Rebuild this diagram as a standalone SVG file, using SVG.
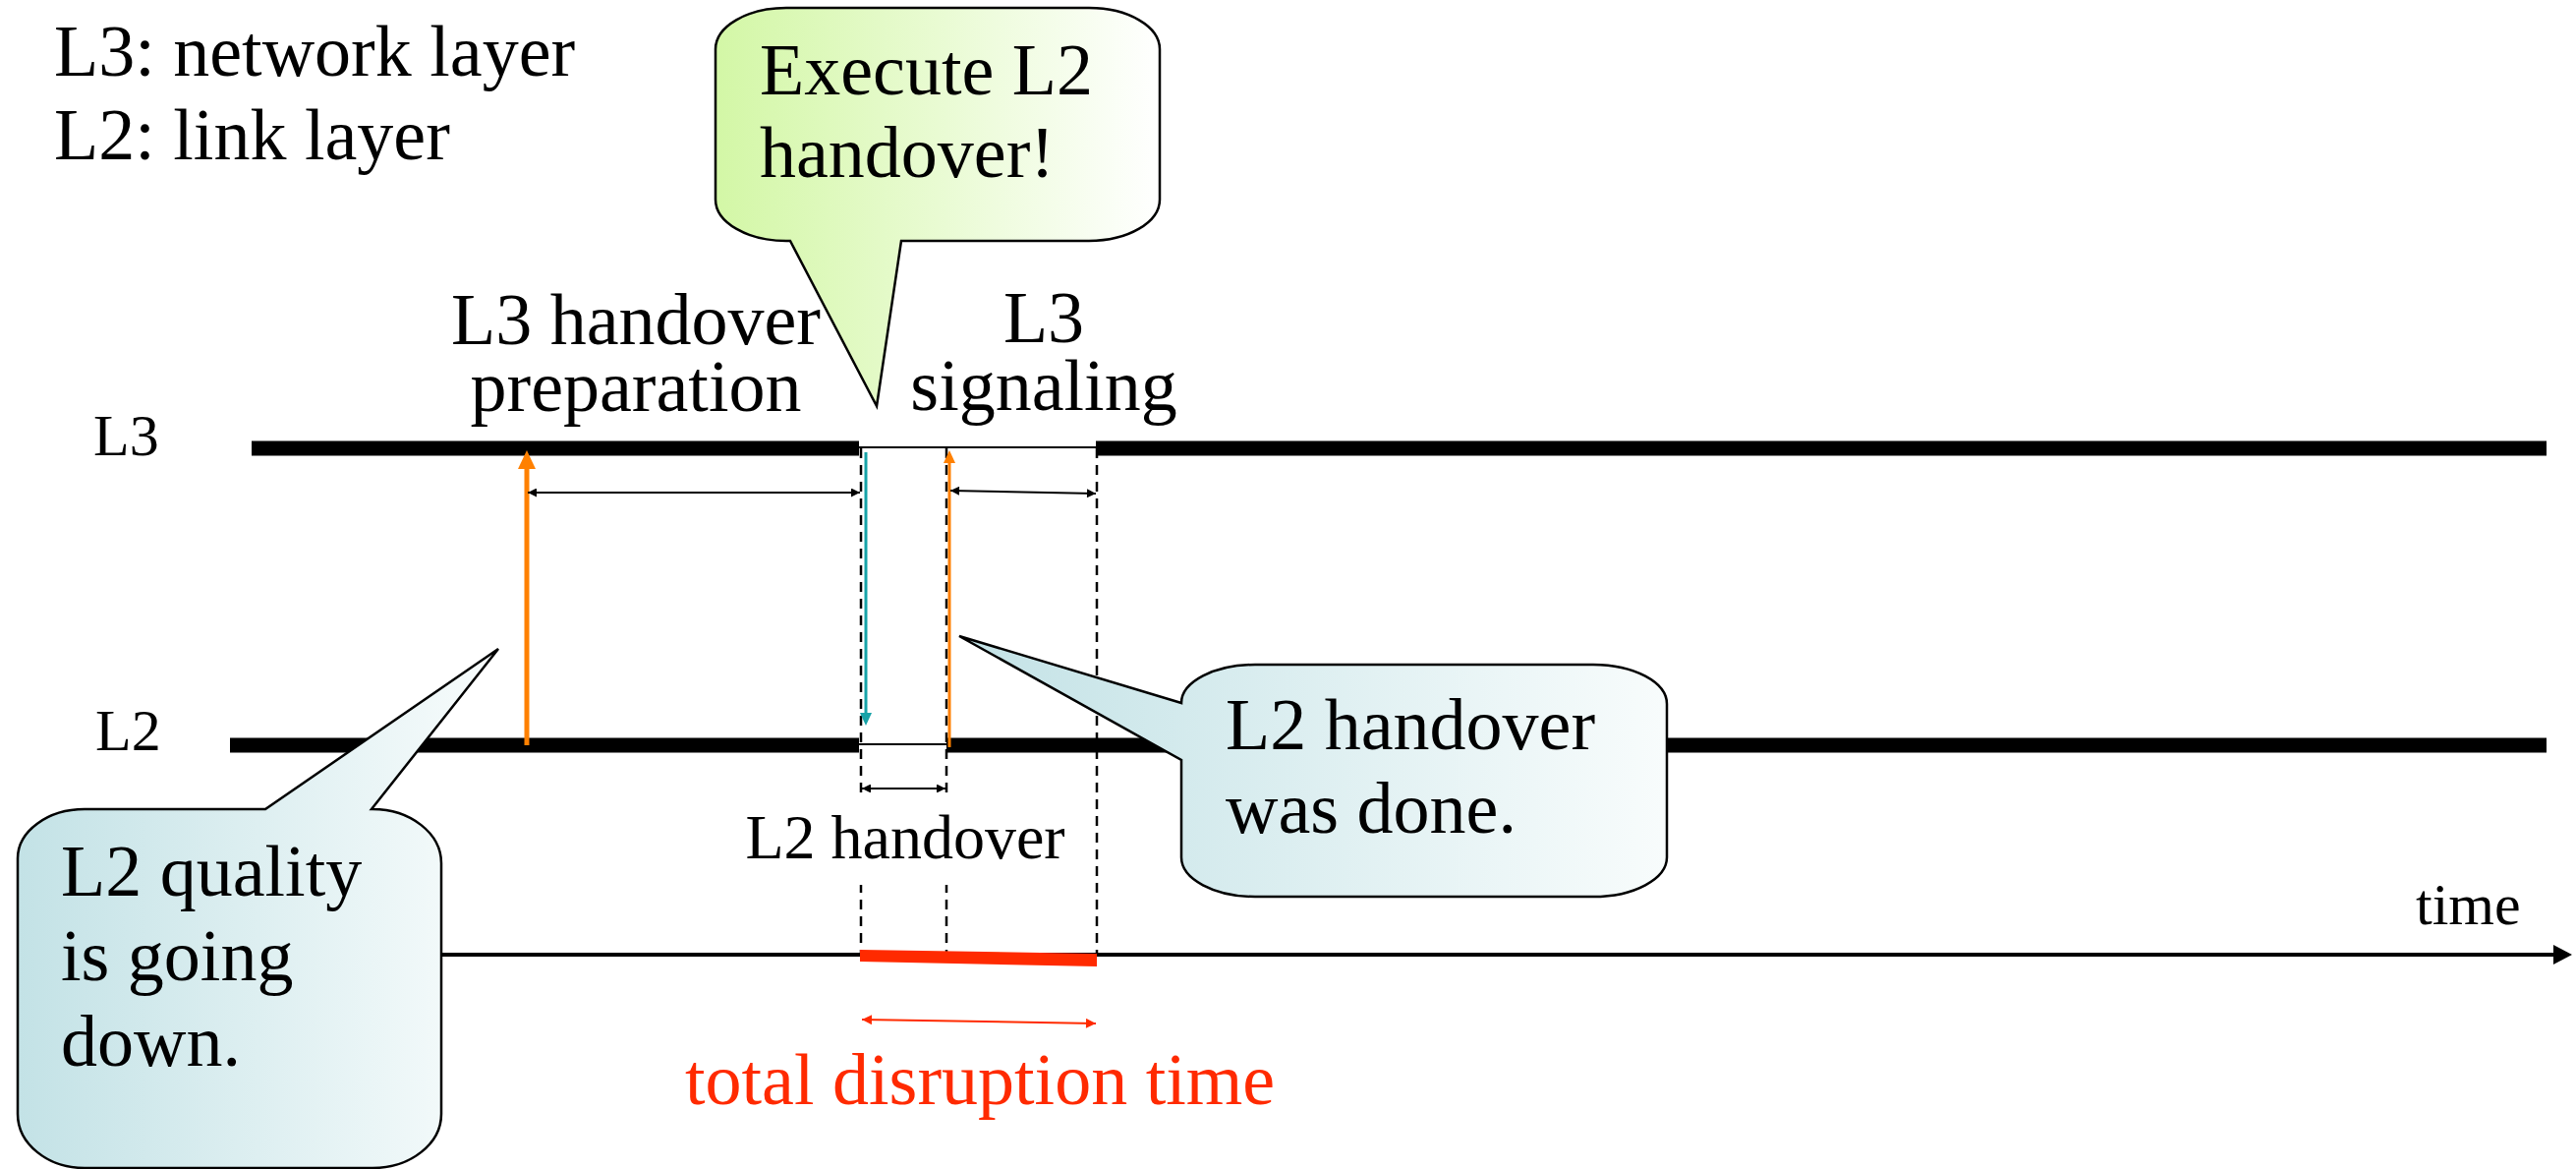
<svg xmlns="http://www.w3.org/2000/svg" width="2621" height="1189" viewBox="0 0 2621 1189">
  <style>
    text { font-family: "Liberation Serif", "Times New Roman", serif; fill: #000; }
    .big { font-size: 74px; }
    .mid { font-size: 64px; }
    .small { font-size: 60px; }
    .red { fill: #FF2A00; }
    .thick { stroke: #000; stroke-width: 15; fill: none; }
    .thin { stroke: #000; stroke-width: 2; fill: none; }
    .dash { stroke: #000; stroke-width: 2.5; stroke-dasharray: 10 7; fill: none; }
    .dim { stroke: #000; stroke-width: 2; fill: none; }
    .callout { stroke: #000; stroke-width: 2.5; }
  </style>
  <defs>
    <linearGradient id="gradGreen" x1="0" y1="0" x2="1" y2="0">
      <stop offset="0" stop-color="#D3F7A6"/>
      <stop offset="1" stop-color="#FFFFFF"/>
    </linearGradient>
    <linearGradient id="gradTeal" x1="0" y1="0" x2="1" y2="0">
      <stop offset="0" stop-color="#C3E2E6"/>
      <stop offset="1" stop-color="#F8FCFC"/>
    </linearGradient>
    <marker id="headBlack" viewBox="0 0 10 10" refX="10" refY="5" markerWidth="11" markerHeight="9" markerUnits="userSpaceOnUse" orient="auto-start-reverse">
      <path d="M0,0 L10,5 L0,10 Z" fill="#000"/>
    </marker>
    <marker id="headRed" viewBox="0 0 10 10" refX="10" refY="5" markerWidth="13" markerHeight="10" markerUnits="userSpaceOnUse" orient="auto-start-reverse">
      <path d="M0,0 L10,5 L0,10 Z" fill="#FF2A00"/>
    </marker>
  </defs>

  <rect width="2621" height="1189" fill="#fff"/>

  <!-- legend -->
  <g id="legend">
    <text class="big" x="55" y="77">L3: network layer</text>
    <text class="big" x="55" y="162">L2: link layer</text>
  </g>

  <!-- layer timelines and time axis -->
  <g id="timelines">
    <text class="small" x="95" y="463">L3</text>
    <text class="small" x="97" y="763">L2</text>
    <line class="thick" x1="256" y1="456" x2="874" y2="456"/>
    <line class="thin" x1="874" y1="455" x2="1115" y2="455"/>
    <line class="thick" x1="1115" y1="456" x2="2591" y2="456"/>
    <line class="thick" x1="234" y1="758" x2="874" y2="758"/>
    <line class="thin" x1="874" y1="757" x2="963" y2="757"/>
    <line class="thick" x1="963" y1="758" x2="2591" y2="758"/>
    <line x1="300" y1="971" x2="2600" y2="971" stroke="#000" stroke-width="4"/>
    <polygon points="2617,971 2598,961 2598,981" fill="#000"/>
    <text class="small" x="2458" y="940">time</text>
  </g>

  <!-- connectors: phase boundaries, signals and durations -->
  <g id="connectors">
    <line class="dash" x1="876" y1="456" x2="876" y2="970"/>
    <line class="dash" x1="963" y1="456" x2="963" y2="970"/>
    <line class="dash" x1="1116" y1="456" x2="1116" y2="970"/>

    <!-- L2 trigger up to L3 -->
    <line x1="536" y1="758" x2="536" y2="475" stroke="#FF8000" stroke-width="5"/>
    <polygon points="536,458 527,477 545,477" fill="#FF8000"/>
    <!-- L3 command down to L2 -->
    <line x1="881" y1="460" x2="881" y2="728" stroke="#17A3A8" stroke-width="3"/>
    <polygon points="881,738 875,725 887,725" fill="#17A3A8"/>
    <!-- L2 completion up to L3 -->
    <line x1="966" y1="760" x2="966" y2="468" stroke="#FF8000" stroke-width="3"/>
    <polygon points="966,458 960,471 972,471" fill="#FF8000"/>

    <line class="dim" x1="537" y1="501" x2="875" y2="501" marker-start="url(#headBlack)" marker-end="url(#headBlack)"/>
    <line class="dim" x1="967" y1="499" x2="1115" y2="502" marker-start="url(#headBlack)" marker-end="url(#headBlack)"/>
    <line class="dim" x1="877" y1="802" x2="962" y2="802" marker-start="url(#headBlack)" marker-end="url(#headBlack)"/>

    <polygon points="875,966 1116,970 1116,983 875,978" fill="#FF2A00"/>
    <line x1="877" y1="1037" x2="1115" y2="1041" stroke="#FF2A00" stroke-width="2" marker-start="url(#headRed)" marker-end="url(#headRed)"/>
  </g>

  <!-- phase labels -->
  <g id="label-l3-prep">
    <text class="big" x="647" y="350" text-anchor="middle">L3 handover</text>
    <text class="big" x="647" y="418" text-anchor="middle">preparation</text>
  </g>
  <g id="label-l3-signaling">
    <text class="big" x="1062" y="348" text-anchor="middle">L3</text>
    <text class="big" x="1062" y="417" text-anchor="middle">signaling</text>
  </g>
  <g id="label-l2-handover">
    <rect x="752" y="806" width="338" height="94" fill="#fff"/>
    <text class="mid" x="921" y="873" text-anchor="middle">L2 handover</text>
  </g>
  <g id="label-disruption">
    <text class="big red" x="697" y="1123">total disruption time</text>
  </g>

  <!-- speech bubbles -->
  <g id="bubble-execute">
    <path class="callout" fill="url(#gradGreen)" d="M800,8 H1108 A72,42 0 0 1 1180,50 V203 A72,42 0 0 1 1108,245 H917 L892,413 L804,245 H800 A72,42 0 0 1 728,203 V50 A72,42 0 0 1 800,8 Z"/>
    <text class="big" x="773" y="96">Execute L2</text>
    <text class="big" x="773" y="180">handover!</text>
  </g>
  <g id="bubble-quality">
    <path class="callout" fill="url(#gradTeal)" d="M86,823 H270 L507,660 L378,823 H379 A70,55 0 0 1 449,878 V1133 A70,55 0 0 1 379,1188 H86 A68,55 0 0 1 18,1133 V873 A68,50 0 0 1 86,823 Z"/>
    <text class="big" x="62" y="911">L2 quality</text>
    <text class="big" x="62" y="997">is going</text>
    <text class="big" x="62" y="1084">down.</text>
  </g>
  <g id="bubble-done">
    <path class="callout" fill="url(#gradTeal)" d="M1277,676 H1621 A75,40 0 0 1 1696,716 V872 A75,40 0 0 1 1621,912 H1277 A75,40 0 0 1 1202,872 V773 L976,647 L1202,715 A75,39 0 0 1 1277,676 Z"/>
    <text class="big" x="1247" y="762">L2 handover</text>
    <text class="big" x="1247" y="847">was done.</text>
  </g>
</svg>
